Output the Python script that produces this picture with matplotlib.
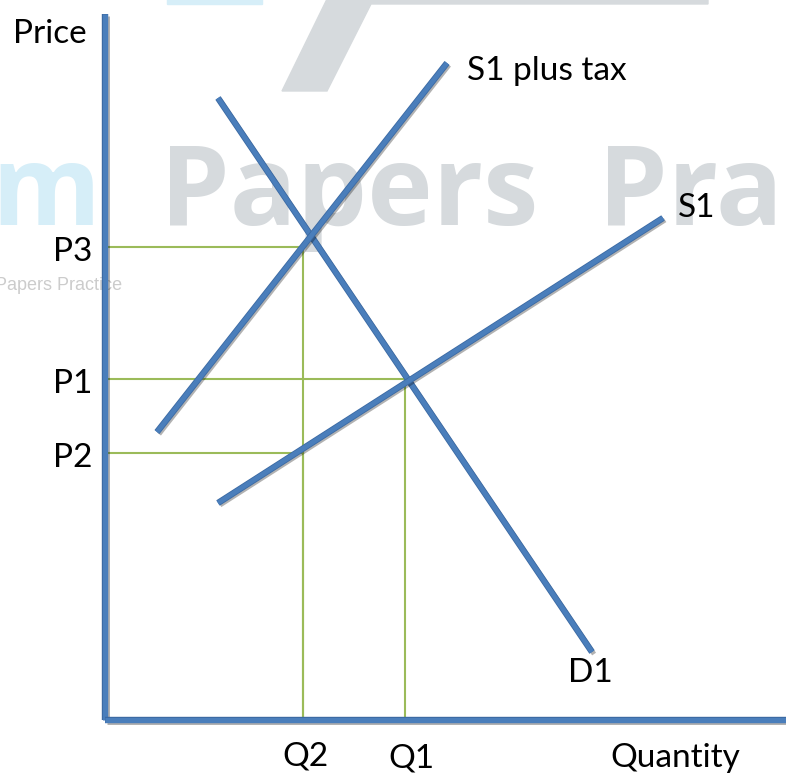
import matplotlib
matplotlib.use("Agg")
import matplotlib.pyplot as plt
import matplotlib.patheffects as pe
from matplotlib.patches import Polygon, Rectangle

# curves: (quantity, price) end points, origin at the axes corner
demand_q = [113, 487]
demand_p = [622, 68]
supply_q = [113, 558]
supply_p = [217, 502]
taxed_q = [52, 342]
taxed_p = [288, 657]

# levels marked with guide lines
price_levels = {"P3": 473, "P1": 341, "P2": 267}
qty_levels = {"Q2": 198, "Q1": 300}
guides = [("P3", "Q2"), ("P1", "Q1"), ("P2", "Q2")]

axis_top = 706
axis_right = 681

BLUE = "#4a7ebb"
GREEN = "#9bbb59"
WM_GREY = "#d6dadd"
WM_BLUE = "#d6eef8"

plt.rcParams["font.family"] = ["Lato", "DejaVu Sans"]

fig = plt.figure(figsize=(7.86, 7.73), dpi=100)
ax = fig.add_axes([0, 0, 1, 1])
ax.set_xlim(-105, 681)
ax.set_ylim(-53, 720)
ax.axis("off")

# watermark
wm = dict(fontsize=80, fontweight="bold", family="Open Sans",
          va="baseline", zorder=0)
ax.text(-5, 495, "m", color=WM_BLUE, ha="right", **wm)
ax.text(55, 495, "Papers", color=WM_GREY, ha="left", **wm)
ax.text(493, 495, "Practice", color=WM_GREY, ha="left", **wm)
ax.text(17, 434, "Exam Papers Practice", fontsize=13, color="#cccccc",
        family="Liberation Sans", ha="right", va="center", zorder=0)
ax.add_patch(Rectangle((62, 716), 95, 8, color=WM_BLUE, zorder=0))
ax.add_patch(Polygon([(177, 629), (222, 629), (266, 716), (603, 716),
                      (603, 725), (224, 725)], color=WM_GREY, zorder=0))

shadow = [pe.SimpleLineShadow(offset=(1.5, -1.5), alpha=0.3),
          pe.Stroke(linewidth=4.6, foreground="#3c6aa3"),
          pe.Normal()]

# guide lines
for p_name, q_name in guides:
    p = price_levels[p_name]
    q = qty_levels[q_name]
    ax.plot([0, q], [p, p], color=GREEN, lw=1.5, zorder=1)
    ax.plot([q, q], [0, p], color=GREEN, lw=1.5, zorder=1)

# axes
ax.plot([0, 0], [0, axis_top], color=BLUE, lw=3.6, zorder=3,
        solid_capstyle="butt", path_effects=shadow)
ax.plot([0, axis_right], [0, 0], color=BLUE, lw=3.6, zorder=3,
        solid_capstyle="butt", path_effects=shadow)

# curves
for q, p in [(demand_q, demand_p), (taxed_q, taxed_p), (supply_q, supply_p)]:
    ax.plot(q, p, color=BLUE, lw=3.4, zorder=2, solid_capstyle="butt",
            path_effects=shadow)

fs = 24
txt = dict(fontsize=fs, va="baseline")
ax.text(-55, 677, "Price", ha="center", **txt)
ax.text(570, -47, "Quantity", ha="center", **txt)
for name, p in price_levels.items():
    ax.text(-32, p - 14, name, ha="center", **txt)
ax.text(200, -46, "Q2", ha="center", **txt)
ax.text(306, -48, "Q1", ha="center", **txt)
ax.text(362, 640, "S1 plus tax", ha="left", **txt)
ax.text(573, 503, "S1", ha="left", **txt)
ax.text(485, 38, "D1", ha="center", **txt)

fig.savefig("out.png", dpi=100)
